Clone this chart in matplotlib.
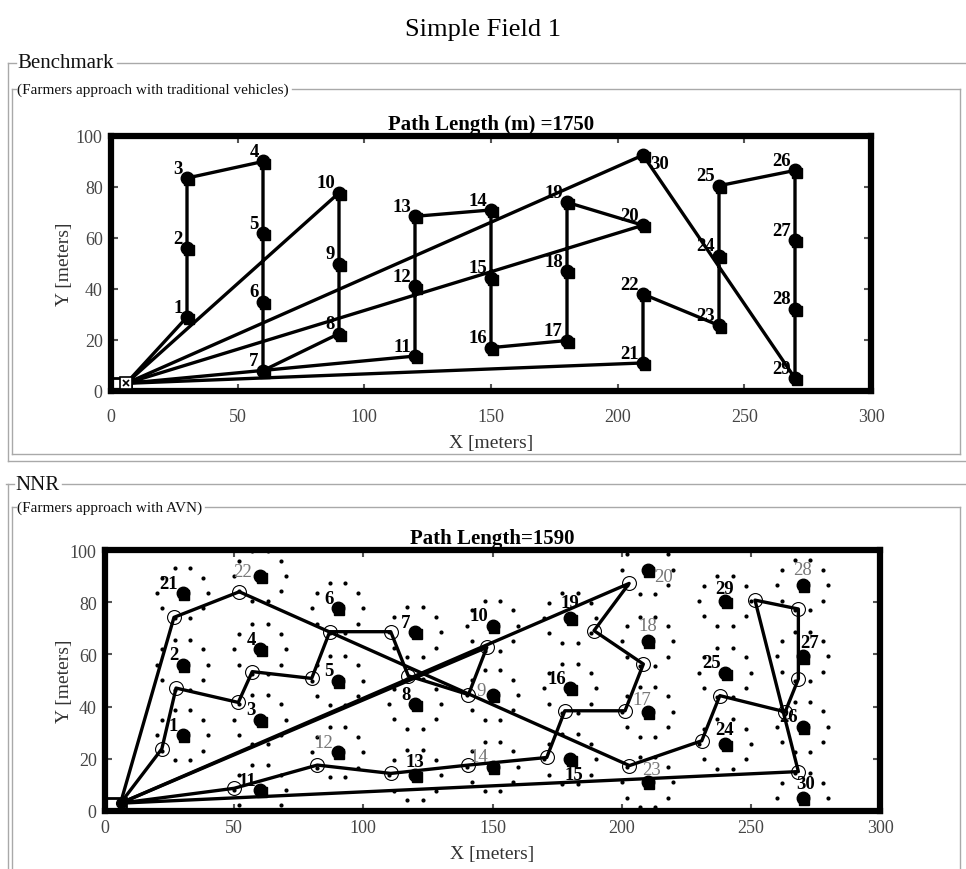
import matplotlib
matplotlib.use('Agg')
import matplotlib.pyplot as plt
from matplotlib.lines import Line2D
from matplotlib.patches import Rectangle
from matplotlib import transforms
import numpy as np

plt.rcParams['font.family'] = ['Liberation Serif', 'DejaVu Serif']

W, H = 966, 870

depot = (6, 3)

# Benchmark: waypoints in visiting order (3 trips of 10), labelled 1..30
bench_x = [30, 30, 30, 60, 60, 60, 60, 90, 90, 90,
           120, 120, 120, 150, 150, 150, 180, 180, 180, 210,
           210, 210, 240, 240, 240, 270, 270, 270, 270, 210]
bench_y = [29, 56, 83.5, 90, 62, 35, 8, 22.5, 50, 77.7,
           13.7, 41, 68.5, 71, 44.5, 17, 19.8, 47, 74, 65,
           11, 38, 25.7, 53, 80.5, 86.5, 59.2, 32.3, 5, 92.5]
bench_len = 1750

# NNR: waypoints labelled 1..30
nnr_wx = [30, 30, 60, 60, 90, 90, 120, 120, 150, 150,
          60, 90, 120, 150, 180, 180, 210, 210, 180, 210,
          30, 60, 210, 240, 240, 270, 270, 270, 240, 270]
nnr_wy = [29, 56, 35, 62, 50, 77.7, 68.5, 41, 44.5, 71,
          8, 22.5, 13.7, 17, 19.8, 47, 38, 65, 74, 92.5,
          83.5, 90, 11, 25.7, 53, 32.3, 59.2, 86.5, 80.5, 5]
# NNR: vehicle stops (open circles) in visiting order, 3 trips of 10
nnr_px = [22, 27.5, 51.6, 57, 80, 87, 110.6, 117.4, 140.7, 147.8,
          50, 82.2, 110.6, 140.7, 171, 178, 201.3, 208.4, 189.3, 202.9,
          26.7, 52, 203, 231, 238, 263.3, 268.4, 268.4, 251.6, 268.4]
nnr_py = [23.8, 47.1, 41.6, 53.4, 50.8, 68.7, 68.7, 51.8, 44.6, 62.7,
          8.7, 17.6, 14.4, 17.6, 20.5, 38.4, 38.4, 56.3, 69.1, 87.2,
          74.2, 84, 17.4, 26.9, 44.2, 38, 50.6, 77.4, 80.8, 15.1]
nnr_len = 1590
nnr_gray = [9, 12, 14, 17, 18, 20, 22, 23, 28]

# candidate ring around every waypoint (radius in m, angles in deg)
ring_r = 10
ring_ang = [0, 36, 72, 108, 144, 180, 216, 252, 288, 324]

trip = 10

# label placement tweaks: label -> (dx, dy, ha, va) in points
bench_off = {30: (5, -6, 'left', 'center')}
nnr_off = {20: (5, -5, 'left', 'center'), 23: (3, 3, 'center', 'bottom'),
           15: (3, -5, 'center', 'top'), 28: (0, 5, 'center', 'bottom'),
           30: (2, 4, 'center', 'bottom'), 24: (0, 4, 'center', 'bottom'),
           29: (0, 3, 'center', 'bottom'), 27: (5, 4, 'center', 'bottom'),
           19: (0, 5, 'center', 'bottom'), 18: (0, 5, 'center', 'bottom'),
           13: (0, 4, 'center', 'bottom'), 9: (-5, 3, 'right', 'center'),
           22: (-6, 3, 'right', 'center'), 17: (-4, 3, 'center', 'bottom')}

fig = plt.figure(figsize=(W / 100, H / 100), dpi=100)


def fx(x):
    return x / W


def fy(y):
    return 1 - y / H


def gline(xs, ys):
    fig.add_artist(Line2D([fx(x) for x in xs], [fy(y) for y in ys],
                          transform=fig.transFigure, color='#a9a9a9', lw=1))


def panel_title(x, y, s, size, right):
    t = fig.text(fx(x), fy(y), s, fontsize=size, va='center', ha='left', color='#111111')
    fig.canvas.draw()
    bb = t.get_window_extent()
    gline([bb.x1 + 3, right], [y, y])
    gline([x - 9 if size > 12 else x - 5, x - 1], [y, y])


def style_axes(ax, title, xpad, xlpad, ylpad):
    ax.set_xlim(0, 300)
    ax.set_ylim(0, 100)
    ax.set_xticks(range(0, 301, 50))
    ax.set_yticks(range(0, 101, 20))
    for sp in ax.spines.values():
        sp.set_linewidth(4.5)
        sp.set_color('black')
    ax.tick_params(direction='in', length=5, width=1.5, color='#555555',
                   top=True, right=True, labelsize=13, labelcolor='#454545', pad=6)
    ax.tick_params(axis='x', pad=xpad)
    ax.set_xlabel('X [meters]', fontsize=14, color='#333333', labelpad=xlpad)
    ax.set_ylabel('Y [meters]', fontsize=14, color='#333333', labelpad=ylpad)
    ax.set_title(title, fontsize=15, fontweight='bold', pad=5)
    ax.add_patch(Rectangle((0, 0), 8, 5, fill=False, lw=2, ec='black', zorder=3))


def put_label(ax, x, y, n, off, **kw):
    dx, dy, ha, va = off.get(n, (-3, 1, 'right', 'bottom'))
    ax.annotate(str(n), (x, y), xytext=(dx, dy), textcoords='offset points',
                ha=ha, va=va, fontsize=13.5, zorder=6, **kw)


def waypoint_markers(ax, xs, ys):
    ax.plot(xs, ys, 'o', ms=9, color='black', zorder=5)
    sh = transforms.offset_copy(ax.transData, fig=fig, x=1.2, y=-1.5, units='points')
    ax.plot(xs, ys, 's', ms=6.5, color='black', zorder=5, transform=sh)


fig.text(0.5, fy(30), 'Simple Field 1', fontsize=19, ha='center', va='center')

# ---- Benchmark panel frames
panel_title(17, 64, 'Benchmark', 15, W)
gline([8, 8], [64, 462])
gline([8, W], [462, 462])
panel_title(17, 90, '(Farmers approach with traditional vehicles)', 11, 960)
gline([12, 12], [90, 455])
gline([960, 960], [90, 455])
gline([12, 960], [455, 455])

# ---- NNR panel frames
panel_title(15, 485, 'NNR', 15, W)
gline([8, 8], [485, H])
panel_title(17, 508, '(Farmers approach with AVN)', 11, 960)
gline([12, 12], [508, H])
gline([960, 960], [508, H])

# ---- top: benchmark routes
ax1 = fig.add_axes([fx(111), fy(392), (871 - 111) / W, (392 - 137) / H])
style_axes(ax1, 'Path Length (m) =%d' % bench_len, 12, 7, 2)
for k in range(0, len(bench_x), trip):
    xs = [depot[0]] + bench_x[k:k + trip] + [depot[0]]
    ys = [depot[1]] + bench_y[k:k + trip] + [depot[1]]
    ax1.plot(xs, ys, '-', color='black', lw=2.4, zorder=4)
waypoint_markers(ax1, bench_x, bench_y)
for i, (x, y) in enumerate(zip(bench_x, bench_y)):
    put_label(ax1, x, y, i + 1, bench_off, color='black', fontweight='bold')
ax1.plot(*depot, 's', ms=8, mfc='white', mec='black', mew=1.2, zorder=6)
ax1.plot(*depot, 'x', ms=5, color='black', mew=1.2, zorder=7)

# ---- bottom: NNR routes
ax2 = fig.add_axes([fx(105), fy(812), (880 - 105) / W, (812 - 551) / H])
style_axes(ax2, 'Path Length=%d' % nnr_len, 6, 6, -2)
rx = [x + ring_r * np.cos(np.radians(a)) for x in nnr_wx for a in ring_ang]
ry = [y + ring_r * np.sin(np.radians(a)) for y in nnr_wy for a in ring_ang]
ax2.plot(rx, ry, 'o', ms=3, color='black', mew=0, zorder=2)
for k in range(0, len(nnr_px), trip):
    xs = [depot[0]] + nnr_px[k:k + trip] + [depot[0]]
    ys = [depot[1]] + nnr_py[k:k + trip] + [depot[1]]
    ax2.plot(xs, ys, '-', color='black', lw=2.4, zorder=4)
ax2.plot(nnr_px, nnr_py, 'o', ms=10, mfc='none', mec='black', mew=0.8, zorder=5)
waypoint_markers(ax2, nnr_wx, nnr_wy)
for i, (x, y) in enumerate(zip(nnr_wx, nnr_wy)):
    n = i + 1
    if n in nnr_gray:
        put_label(ax2, x, y, n, nnr_off, color='#777777')
    else:
        put_label(ax2, x, y, n, nnr_off, color='black', fontweight='bold')
ax2.plot(*depot, 'o', ms=7, color='black', zorder=6)

fig.savefig('out.png', dpi=100)
